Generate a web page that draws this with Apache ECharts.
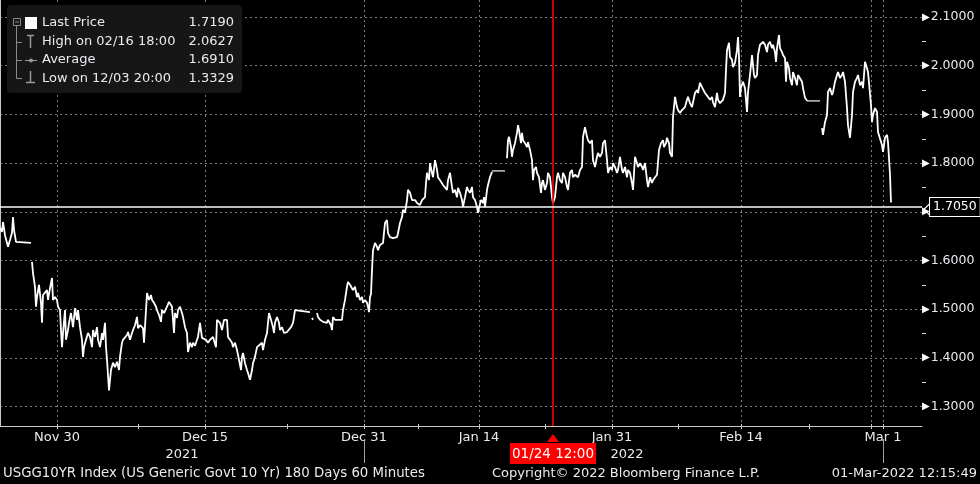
<!DOCTYPE html>
<html><head><meta charset="utf-8">
<script src="https://cdn.jsdelivr.net/npm/echarts@6/dist/echarts.min.js"></script>
<style>html,body{margin:0;padding:0;background:#000;}#c{width:980px;height:484px;}</style>
</head><body><div id="c"></div>
<script>
// ---- axes / labels ----
const xTickBars  = [57, 205, 364, 479, 612, 741, 883];
const xTickNames = ['Nov 30', 'Dec 15', 'Dec 31', 'Jan 14', 'Jan 31', 'Feb 14', 'Mar 1'];
const xMinorBars = [138, 287, 418, 545, 678, 809, 871];
const xGridBars  = [57, 205, 364, 479, 612, 741, 871, 883];
const yearBars   = [182, 627];
const yearNames  = ['2021', '2022'];
const yearSepBars = [364, 883];
const yTicks      = [1.3, 1.4, 1.5, 1.6, 1.7, 1.8, 1.9, 2.0, 2.1];
const yMinorTicks = [1.35, 1.45, 1.55, 1.65, 1.75, 1.85, 1.95, 2.05];
const cursorBar = 553, cursorLabel = '01/24 12:00';
const refLevel = 1.705;
const legendRows = [
  ['Last Price', '1.7190'],
  ['High on 02/16 18:00', '2.0627'],
  ['Average', '1.6910'],
  ['Low on 12/03 20:00', '1.3329']
];
const footLeft = 'USGG10YR Index (US Generic Govt 10 Yr) 180 Days 60 Minutes';
const footMid = 'Copyright\u00A9 2022 Bloomberg Finance L.P.';
const footRight = '01-Mar-2022 12:15:49';

// ---- price data: [bar, yield] (bars of resampled 60-min data) ----
const seg1 = [[0,1.667],[2,1.659],[3,1.679],[5,1.652],[7,1.648],[8,1.628],[10,1.642],[12,1.657],[13,1.689],[14,1.663],[16,1.638],[17,1.636],[31,1.636]];
const seg2 = [[32,1.597],[33,1.574],[35,1.546],[36,1.505],[37,1.525],[39,1.550],[41,1.513],[42,1.472],[43,1.529],[45,1.525],[47,1.539],[48,1.519],[50,1.543],[52,1.564],[53,1.519],[55,1.525],[57,1.519],[58,1.505],[60,1.498],[61,1.457],[62,1.422],[63,1.451],[65,1.498],[66,1.437],[68,1.457],[69,1.472],[71,1.492],[73,1.463],[75,1.502],[77,1.478],[78,1.498],[80,1.463],[82,1.437],[83,1.402],[84,1.422],[86,1.437],[88,1.451],[90,1.443],[92,1.422],[93,1.457],[95,1.443],[97,1.463],[98,1.437],[100,1.422],[102,1.451],[103,1.437],[105,1.472],[106,1.422],[107,1.396],[109,1.333],[111,1.375],[113,1.390],[115,1.381],[117,1.392],[119,1.375],[120,1.402],[122,1.431],[123,1.437],[125,1.441],[127,1.447],[128,1.453],[130,1.437],[132,1.451],[133,1.457],[135,1.467],[137,1.484],[138,1.461],[140,1.467],[142,1.463],[143,1.461],[144,1.431],[146,1.498],[147,1.533],[149,1.519],[151,1.529],[152,1.519],[154,1.513],[156,1.505],[157,1.498],[159,1.488],[161,1.474],[162,1.498],[164,1.492],[166,1.488],[167,1.505],[169,1.515],[171,1.519],[172,1.505],[173,1.478],[174,1.451],[175,1.492],[177,1.482],[178,1.498],[180,1.505],[182,1.492],[183,1.484],[185,1.463],[187,1.451],[188,1.412],[190,1.431],[192,1.422],[193,1.431],[195,1.425],[197,1.437],[198,1.443],[200,1.472],[202,1.441],[204,1.443],[206,1.437],[208,1.431],[210,1.437],[213,1.443],[216,1.422],[217,1.478],[220,1.472],[222,1.457],[224,1.478],[227,1.478],[228,1.443],[230,1.437],[232,1.431],[233,1.422],[235,1.431],[237,1.416],[239,1.396],[241,1.375],[242,1.402],[243,1.410],[245,1.389],[247,1.375],[248,1.369],[250,1.355],[252,1.375],[253,1.389],[255,1.402],[257,1.422],[259,1.422],[262,1.431],[263,1.416],[265,1.437],[267,1.451],[268,1.472],[269,1.492],[271,1.478],[273,1.463],[274,1.451],[275,1.472],[277,1.484],[279,1.472],[280,1.457],[282,1.463],[284,1.451],[287,1.453],[289,1.457],[291,1.463],[293,1.472],[294,1.484],[295,1.498],[297,1.494],[310,1.494]];
const seg3 = [[312,1.482],[313,1.478]];
const seg4 = [[317,1.492],[318,1.484],[320,1.478],[322,1.482],[323,1.474],[325,1.478],[327,1.472],[328,1.478],[331,1.467],[332,1.457],[333,1.484],[335,1.478],[337,1.474],[338,1.478],[340,1.474],[342,1.478],[343,1.498],[345,1.519],[347,1.546],[348,1.556],[350,1.550],[352,1.554],[353,1.539],[355,1.546],[357,1.525],[358,1.533],[360,1.519],[362,1.525],[363,1.513],[365,1.519],[367,1.513],[368,1.505],[369,1.494],[370,1.525],[371,1.531],[372,1.580],[373,1.621],[375,1.636],[377,1.628],[378,1.621],[380,1.632],[382,1.628],[383,1.636],[385,1.677],[387,1.683],[388,1.656],[390,1.648],[392,1.652],[393,1.646],[395,1.642],[397,1.648],[398,1.656],[400,1.677],[402,1.689],[403,1.704],[405,1.698],[407,1.724],[408,1.745],[410,1.739],[412,1.724],[413,1.728],[415,1.724],[417,1.718],[418,1.720],[420,1.714],[422,1.724],[423,1.728],[425,1.730],[426,1.759],[427,1.780],[429,1.765],[430,1.800],[432,1.780],[433,1.771],[435,1.806],[437,1.786],[438,1.771],[440,1.765],[442,1.761],[443,1.755],[445,1.759],[447,1.745],[448,1.765],[450,1.780],[452,1.751],[453,1.739],[455,1.745],[457,1.730],[458,1.749],[460,1.739],[462,1.724],[463,1.710],[465,1.730],[467,1.751],[468,1.745],[470,1.739],[472,1.751],[473,1.730],[475,1.724],[477,1.710],[478,1.698],[479,1.708],[481,1.724],[483,1.718],[484,1.730],[485,1.710],[487,1.745],[488,1.755],[490,1.771],[492,1.782]];
const seg5 = [[507,1.810],[508,1.847],[509,1.854],[511,1.833],[512,1.813],[513,1.827],[515,1.841],[517,1.862],[518,1.878],[519,1.868],[521,1.841],[522,1.862],[523,1.847],[525,1.841],[527,1.833],[528,1.843],[530,1.827],[532,1.806],[533,1.765],[534,1.786],[536,1.792],[537,1.780],[539,1.771],[541,1.739],[542,1.759],[543,1.765],[545,1.745],[547,1.759],[548,1.780],[550,1.771],[552,1.730],[553,1.718],[555,1.730],[557,1.771],[558,1.780],[560,1.765],[562,1.759],[563,1.780],[565,1.771],[567,1.751],[568,1.745],[570,1.780],[572,1.786],[573,1.771],[575,1.776],[577,1.780],[578,1.771],[580,1.786],[582,1.792],[583,1.854],[585,1.874],[587,1.854],[588,1.847],[590,1.841],[592,1.847],[593,1.806],[595,1.792],[597,1.813],[598,1.821],[600,1.813],[602,1.821],[603,1.841],[605,1.847],[607,1.806],[608,1.780],[610,1.792],[612,1.786],[613,1.800],[615,1.792],[617,1.780],[618,1.786],[620,1.813],[622,1.786],[623,1.780],[625,1.792],[627,1.771],[628,1.786],[630,1.780],[632,1.759],[633,1.745],[635,1.813],[637,1.800],[638,1.792],[640,1.800],[642,1.792],[643,1.786],[645,1.800],[647,1.765],[648,1.751],[650,1.771],[652,1.759],[653,1.765],[655,1.771],[657,1.776],[658,1.780],[659,1.827],[661,1.841],[663,1.847],[664,1.833],[666,1.841],[667,1.852],[669,1.841],[670,1.821],[672,1.813],[673,1.895],[674,1.915],[675,1.936],[677,1.915],[678,1.909],[680,1.903],[682,1.909],[683,1.905],[685,1.915],[687,1.930],[688,1.936],[690,1.923],[692,1.915],[693,1.925],[695,1.944],[697,1.950],[698,1.944],[700,1.965],[702,1.956],[703,1.954],[705,1.944],[707,1.944],[708,1.936],[710,1.930],[712,1.936],[713,1.925],[715,1.915],[717,1.944],[718,1.930],[720,1.923],[722,1.925],[723,1.930],[725,1.944],[726,1.991],[727,2.032],[729,2.047],[730,2.018],[732,2.012],[733,1.997],[735,2.006],[737,2.032],[738,2.059],[739,2.018],[740,1.936],[741,1.956],[742,1.960],[743,1.967],[745,1.954],[747,1.905],[748,1.946],[750,1.981],[752,2.022],[753,2.001],[754,1.981],[755,1.975],[757,1.981],[758,2.022],[760,2.043],[762,2.043],[763,2.049],[765,2.043],[767,2.028],[768,2.043],[770,2.049],[772,2.036],[773,2.043],[775,2.028],[776,2.008],[777,2.036],[779,2.063],[780,2.036],[782,2.028],[783,2.022],[785,2.016],[786,1.967],[787,2.008],[789,1.995],[790,1.975],[792,1.960],[793,1.987],[795,1.975],[797,1.960],[798,1.981],[800,1.981],[802,1.967],[803,1.954],[805,1.934],[807,1.928]];
const seg6 = [[822,1.872],[823,1.858],[825,1.884],[827,1.899],[828,1.946],[830,1.954],[832,1.940],[833,1.946],[835,1.967],[837,1.981],[838,1.987],[840,1.975],[842,1.981],[843,1.987],[845,1.967],[847,1.913],[848,1.878],[850,1.852],[852,1.899],[853,1.946],[855,1.967],[857,1.975],[858,1.981],[860,1.960],[862,1.967],[863,1.954],[865,2.008],[867,1.995],[868,1.987],[869,1.965],[871,1.919],[872,1.884],[873,1.899],[875,1.913],[877,1.905],[878,1.864],[880,1.864],[882,1.837],[883,1.823],[885,1.852],[887,1.858],[888,1.843],[889,1.810],[890,1.776],[891,1.719]];
// holiday (no-trade) flat segments drawn grey: [startBar, endBar, level]
const holidayFlats = [[492, 505, 1.784], [807, 820, 1.928]];

const FONT = '"DejaVu Sans"';
const TXT = '#e8ebef';

function joinSegs(segs) {
  const out = [];
  segs.forEach((s, i) => {
    if (i > 0) out.push([s[0][0] - 0.5, '-']);
    s.forEach(p => out.push(p));
  });
  return out;
}
const mainData = joinSegs([seg1, seg2, seg3, seg4, seg5, seg6]);
const holData = joinSegs(holidayFlats.map(h => [[h[0], h[2]], [h[1], h[2]]]));

const chart = echarts.init(document.getElementById('c'), null, {renderer: 'canvas'});
const gridLine = {color: '#7c7c7c', type: [2, 3], width: 1};
const X0 = 0, X1 = 922, Y0 = 1.26, Y1 = 2.135;

const option = {
  backgroundColor: '#000',
  animation: false,
  grid: {left: 0, right: 58, top: 0, bottom: 58, containLabel: false},
  xAxis: [
    {type: 'value', min: X0, max: X1, position: 'bottom',
     axisLine: {show: true, lineStyle: {color: '#c8c8c8', width: 1}},
     axisTick: {show: false},
     axisLabel: {customValues: xTickBars, formatter: v => xTickNames[xTickBars.indexOf(v)], color: TXT, fontSize: 13, fontFamily: FONT, margin: 5},
     splitLine: {show: false}},
    {type: 'value', min: X0, max: X1, position: 'bottom',
     axisLine: {show: false}, axisTick: {show: false, customValues: xGridBars}, axisLabel: {show: false},
     splitLine: {show: true, lineStyle: gridLine}},
    {type: 'value', min: X0, max: X1, position: 'bottom', offset: 12,
     axisLine: {show: false}, axisTick: {show: false},
     axisLabel: {customValues: yearBars, formatter: v => yearNames[yearBars.indexOf(v)], color: TXT, fontSize: 13, fontFamily: FONT, margin: 10},
     splitLine: {show: false}}
  ],
  yAxis: [
    {type: 'value', min: Y0, max: Y1, position: 'right',
     axisLine: {show: true, lineStyle: {color: '#c8c8c8', width: 1}},
     axisTick: {show: false},
     axisLabel: {customValues: yTicks, margin: 0,
       formatter: v => '{t|\u25B6}{v|' + v.toFixed(4) + '}',
       rich: {t: {fontSize: 10, color: '#ffffff', fontFamily: FONT, padding: [0, 1, 0, 0]},
              v: {fontSize: 12.5, color: TXT, fontFamily: FONT}}},
     splitLine: {show: false}},
    {type: 'value', min: Y0, max: Y1, position: 'right',
     axisLine: {show: false}, axisTick: {show: false, customValues: yTicks}, axisLabel: {show: false},
     splitLine: {show: true, lineStyle: gridLine}}
  ],
  series: [
    {type: 'line', name: 'Holiday', xAxisIndex: 0, yAxisIndex: 0, data: holData,
     showSymbol: false, connectNulls: false, lineStyle: {color: '#a8a8a8', width: 1.8}, silent: true},
    {type: 'line', name: 'Last Price', xAxisIndex: 0, yAxisIndex: 0, data: mainData,
     showSymbol: false, connectNulls: false, lineStyle: {color: '#ffffff', width: 1.8}, silent: true,
     markLine: {
       silent: true, symbol: ['none', 'none'], animation: false,
       data: [
         {xAxis: cursorBar, lineStyle: {color: '#ff0000', width: 1.6, type: 'solid', opacity: 1},
          label: {show: true, position: 'start', distance: 17, formatter: cursorLabel, color: '#ffffff',
                  backgroundColor: '#ff0000', padding: [4, 2, 3, 2], fontSize: 13.5, fontFamily: FONT}},
         {yAxis: refLevel, lineStyle: {color: '#ffffff', width: 1.5, type: 'solid', opacity: 1},
          label: {show: true, position: 'end', distance: 8, formatter: refLevel.toFixed(4), color: '#ffffff',
                  backgroundColor: '#000000', borderColor: '#ffffff', borderWidth: 1, padding: [3, 3, 2, 3],
                  fontSize: 12.5, fontFamily: FONT}}
       ]
     },
     markPoint: {
       silent: true, animation: false, label: {show: false},
       data: [
         {coord: [cursorBar, Y0], symbol: 'triangle', symbolSize: [12, 8], symbolOffset: [0, 12],
          itemStyle: {color: '#ff0000'}}
       ]
     }}
  ]
};
chart.setOption(option);

// ---- decorations placed through the chart's own scales ----
const px = v => chart.convertToPixel({xAxisIndex: 0, yAxisIndex: 0}, v);
const seg = (x1, y1, x2, y2, color, w) => ({type: 'line', silent: true, z: 100,
  shape: {x1: x1, y1: y1, x2: x2, y2: y2}, style: {stroke: color, lineWidth: w || 1}});
const deco = [];
yMinorTicks.forEach(v => { const p = px([X1, v]); const y = Math.round(p[1]) + 0.5; deco.push(seg(p[0], y, p[0] + 4, y, '#dddddd')); });
xTickBars.concat(xMinorBars).forEach(b => { const p = px([b, Y0]); const x = Math.round(p[0]) + 0.5; deco.push(seg(x, p[1] - 2, x, p[1] + 3, '#c8c8c8')); });
yearSepBars.forEach(b => { const p = px([b, Y0]); const x = Math.round(p[0]) + 0.5; deco.push(seg(x, p[1] + 13, x, p[1] + 37, '#a0a0a0')); });
(() => { const p = px([X1, refLevel]);
  deco.push({type: 'polyline', silent: true, z: 100,
    shape: {points: [[p[0] + 8, p[1] - 6], [p[0] + 2, p[1]], [p[0] + 8, p[1] + 6]]},
    style: {stroke: '#ffffff', lineWidth: 1.2, fill: null}}); })();

const legendEls = [
  {type: 'rect', shape: {x: 7, y: 5, width: 235, height: 88, r: 4}, style: {fill: '#161616'}, silent: true},
  {type: 'rect', shape: {x: 13.5, y: 18.5, width: 7, height: 7}, style: {fill: null, stroke: '#8a8a8a', lineWidth: 1}},
  seg(15, 22, 19, 22, '#8a8a8a'),
  seg(16.5, 26, 16.5, 78.5, '#8a8a8a'),
  seg(16.5, 42.5, 22, 42.5, '#8a8a8a'),
  seg(16.5, 60.5, 22, 60.5, '#8a8a8a'),
  seg(16.5, 78.5, 22, 78.5, '#8a8a8a'),
  {type: 'rect', shape: {x: 25, y: 17, width: 12, height: 12}, style: {fill: '#ffffff'}},
  seg(27, 35.5, 34, 35.5, '#9a9a9a', 1.5),
  seg(30.5, 35.5, 30.5, 48, '#9a9a9a', 1.5),
  seg(25, 60.5, 37, 60.5, '#9a9a9a', 1),
  {type: 'circle', shape: {cx: 31, cy: 60.5, r: 2}, style: {fill: '#9a9a9a'}},
  seg(30.5, 71, 30.5, 82.5, '#9a9a9a', 1.5),
  seg(26, 82.5, 35, 82.5, '#9a9a9a', 1.5)
].concat(legendRows.flatMap((r, i) => [
  {type: 'text', x: 42, y: 23 + i * 18.5, style: {text: r[0], fill: TXT, font: '13px ' + FONT, textVerticalAlign: 'middle'}},
  {type: 'text', x: 234, y: 23 + i * 18.5, style: {text: r[1], fill: TXT, font: '13px ' + FONT, textAlign: 'right', textVerticalAlign: 'middle'}}
]));
const footEls = [
  {type: 'text', x: 3, y: 474, style: {text: footLeft, fill: TXT, font: '13.3px ' + FONT, textVerticalAlign: 'middle'}},
  {type: 'text', x: 492, y: 474, style: {text: footMid, fill: TXT, font: '13px ' + FONT, textVerticalAlign: 'middle'}},
  {type: 'text', x: 977, y: 474, style: {text: footRight, fill: TXT, font: '13px ' + FONT, textAlign: 'right', textVerticalAlign: 'middle'}}
];
chart.setOption({graphic: {elements: deco.concat(legendEls, footEls)}});
</script></body></html>
